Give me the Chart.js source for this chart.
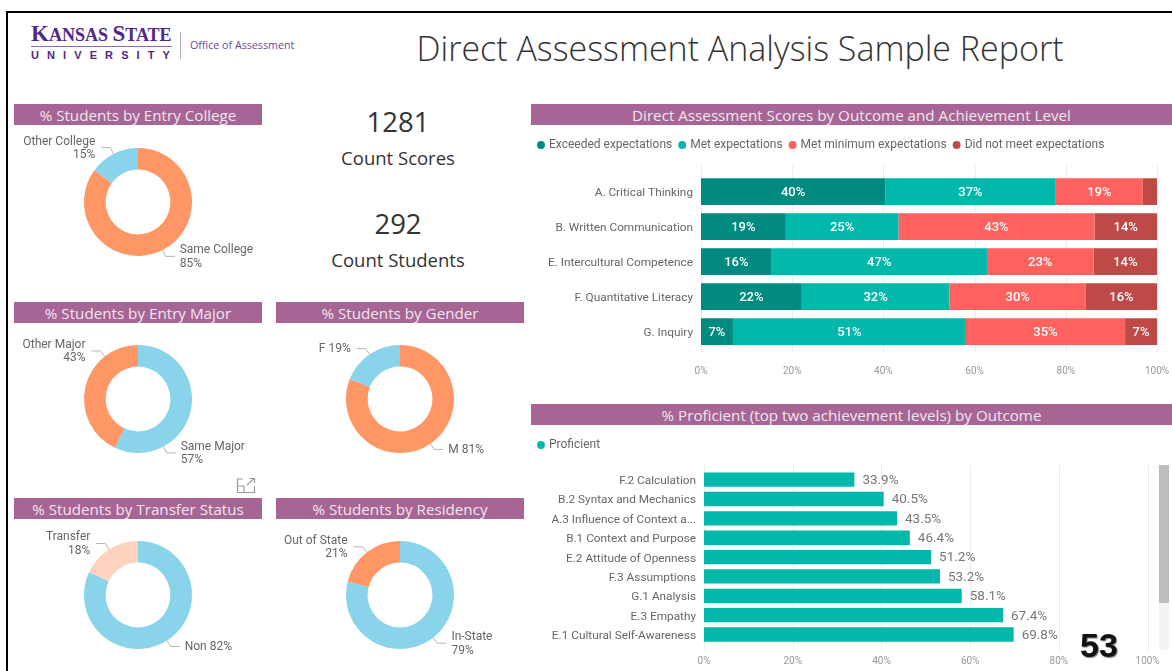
<!DOCTYPE html>
<html>
<head>
<meta charset="utf-8">
<title>Direct Assessment Analysis Sample Report</title>
<script src="https://cdn.jsdelivr.net/npm/chart.js@4"></script>
<style>
    html, body { margin: 0; padding: 0; background: #fff; }
    #page { position: relative; width: 1172px; height: 671px; overflow: hidden; font-family: "Open Sans", sans-serif; color: #333; }
    #page > * { position: absolute; }
    canvas { display: block; }
    .frame-top { left: 6px; top: 11px; width: 1166px; height: 2px; background: #000; }
    .frame-left { left: 6px; top: 11px; width: 2px; height: 660px; background: #000; }
    .bar-title { height: 21px; line-height: 23px; background: #a66594; color: #f1e6ee; text-align: center; font-size: 15.2px; white-space: nowrap; }
    .left-col { left: 14px; width: 248px; }
    .mid-col { left: 276px; width: 248px; }
    .right-col { left: 531px; width: 641px; }
    .kpi { left: 298px; width: 200px; text-align: center; white-space: nowrap; }
    .kpi-num { font-size: 27.5px; line-height: 32px; }
    .kpi-label { font-size: 18.5px; line-height: 24px; }
    #report-title { left: 380px; width: 720px; top: 24px; text-align: center; font-size: 34px; line-height: 48px; font-weight: 300; white-space: nowrap; }
    #logo-ks { left: 31px; top: 22px; font-family: "Liberation Serif", serif; font-weight: 700; font-size: 18px; line-height: 24px; color: #512888; white-space: nowrap; }
    #logo-ks b { font-size: 23px; }
    #logo-rule { left: 31px; top: 46px; width: 141px; height: 1px; background: #8a6fb0; }
    #logo-uni { left: 31px; top: 49px; font-family: "Liberation Sans", sans-serif; font-weight: 700; font-size: 11px; line-height: 12px; letter-spacing: 8.1px; color: #512888; white-space: nowrap; }
    #logo-div { left: 180px; top: 32px; width: 1px; height: 27px; background: #b9a6cf; }
    #logo-office { left: 190px; top: 37px; font-size: 10.7px; line-height: 16px; color: #6a4a9c; white-space: nowrap; }
    #page-num { left: 1080px; top: 626px; font-family: "Liberation Sans", sans-serif; font-weight: 700; font-size: 34px; line-height: 38px; color: #111; text-shadow: 1px 1px 1px #777; }
    #scroll-track { left: 1159px; top: 465px; width: 10px; height: 185px; background: #f3f3f3; }
    #scroll-thumb { left: 1159px; top: 465px; width: 10px; height: 138px; background: #bdbdbd; }
    #expand { left: 236px; top: 477px; }
</style>
</head>
<body>
<div id="page">
    <div class="frame-top"></div>
    <div class="frame-left"></div>

    <div id="logo-ks"><b>K</b>ANSAS <b>S</b>TATE</div>
    <div id="logo-rule"></div>
    <div id="logo-uni">UNIVERSITY</div>
    <div id="logo-div"></div>
    <div id="logo-office">Office of Assessment</div>
    <div id="report-title">Direct Assessment Analysis Sample Report</div>

    <div class="bar-title left-col" style="top:104px">% Students by Entry College</div>
    <div class="bar-title left-col" style="top:302px">% Students by Entry Major</div>
    <div class="bar-title mid-col" style="top:302px">% Students by Gender</div>
    <div class="bar-title left-col" style="top:498px">% Students by Transfer Status</div>
    <div class="bar-title mid-col" style="top:498px">% Students by Residency</div>
    <div class="bar-title right-col" style="top:104px">Direct Assessment Scores by Outcome and Achievement Level</div>
    <div class="bar-title right-col" style="top:404px">% Proficient (top two achievement levels) by Outcome</div>

    <div class="kpi kpi-num" style="top:106px">1281</div>
    <div class="kpi kpi-label" style="top:146px">Count Scores</div>
    <div class="kpi kpi-num" style="top:208px">292</div>
    <div class="kpi kpi-label" style="top:248px">Count Students</div>

    <div style="left:14px;top:127px;width:248px;height:150px"><canvas id="collegeChart"></canvas></div>
    <div style="left:14px;top:324px;width:248px;height:150px"><canvas id="majorChart"></canvas></div>
    <div style="left:276px;top:324px;width:248px;height:150px"><canvas id="genderChart"></canvas></div>
    <div style="left:14px;top:520px;width:248px;height:150px"><canvas id="transferChart"></canvas></div>
    <div style="left:276px;top:520px;width:248px;height:150px"><canvas id="residencyChart"></canvas></div>

    <div style="left:531px;top:131px;width:641px;height:250px"><canvas id="levelChart"></canvas></div>
    <div style="left:531px;top:431px;width:641px;height:240px"><canvas id="proficientChart"></canvas></div>

    <div id="scroll-track"></div>
    <div id="scroll-thumb"></div>
    <div id="page-num">53</div>

    <svg id="expand" width="20" height="17" viewBox="0 0 20 17" fill="none" stroke="#9a9a9a" stroke-width="1.2">
        <path d="M7 2H1.5V15.5H18.5V9"/>
        <path d="M1.5 9H8V15.5"/>
        <path d="M11 8L18 1.5M13.5 1.5H18.5V6"/>
    </svg>
</div>

<script>
// Donut data
const collegeValues = [85, 15];
const collegeText = [['Same College', '85%'], ['Other College', '15%']];
const majorValues = [57, 43];
const majorText = [['Same Major', '57%'], ['Other Major', '43%']];
const genderValues = [81, 19];
const genderText = [['M 81%'], ['F 19%']];
const transferValues = [82, 18];
const transferText = [['Non 82%'], ['Transfer', '18%']];
const residencyValues = [79, 21];
const residencyText = [['In-State', '79%'], ['Out of State', '21%']];

// Achievement level data
const outcomes = ['A. Critical Thinking', 'B. Written Communication', 'E. Intercultural Competence', 'F. Quantitative Literacy', 'G. Inquiry'];
const exceeded = [40.4, 18.6, 15.5, 22.1, 7.0];
const met = [37.4, 24.7, 47.2, 32.4, 51.1];
const metMinimum = [19.1, 43.0, 23.4, 29.9, 34.9];
const notMet = [3.1, 13.7, 13.9, 15.6, 7.0];

// Proficient data
const subOutcomes = ['F.2 Calculation', 'B.2 Syntax and Mechanics', 'A.3 Influence of Context a...', 'B.1 Context and Purpose', 'E.2 Attitude of Openness', 'F.3 Assumptions', 'G.1 Analysis', 'E.3 Empathy', 'E.1 Cultural Self-Awareness'];
const proficient = [33.9, 40.5, 43.5, 46.4, 51.2, 53.2, 58.1, 67.4, 69.8];

const percentTicks = [0, 20, 40, 60, 80, 100];

const BLUE = '#8ad4eb';
const ORANGE = '#fe9666';
const PALE = '#ffd2bf';
const LABEL_FONT = 'Roboto, sans-serif';

// Leader lines and the outside labels of a donut
const sliceLabelPlugin = {
    id: 'sliceLabels',
    afterDraw(chart, args, opts) {
        const ctx = chart.ctx;
        const arcs = chart.getDatasetMeta(0).data;
        ctx.save();
        ctx.font = '12px ' + LABEL_FONT;
        ctx.textBaseline = 'middle';
        arcs.forEach((arc, i) => {
            const mid = opts.angles ? opts.angles[i] * Math.PI / 180 : (arc.startAngle + arc.endAngle) / 2 + Math.PI / 2;
            const r = arc.outerRadius;
            const sx = Math.sin(mid), cy = -Math.cos(mid);
            const right = sx > 0;
            const ex = arc.x + (r + 7) * sx;
            const ey = arc.y + (r + 7) * cy;
            const tail = ex + (right ? 9 : -9);
            ctx.strokeStyle = '#b5b5b5';
            ctx.lineWidth = 1;
            ctx.beginPath();
            ctx.moveTo(arc.x + r * sx, arc.y + r * cy);
            ctx.lineTo(ex, ey);
            ctx.lineTo(tail, ey);
            ctx.stroke();
            const lines = opts.text[i];
            ctx.fillStyle = '#666';
            ctx.textAlign = right ? 'left' : 'right';
            const tx = tail + (right ? 5 : -6);
            if (lines.length === 1) {
                ctx.fillText(lines[0], tx, ey + 0.5);
            } else {
                ctx.fillText(lines[0], tx, ey - 6);
                ctx.fillText(lines[1], tx, ey + 7.5);
            }
        });
        ctx.restore();
    }
};

function createDonut(id, values, colors, text, angles) {
    return new Chart(document.getElementById(id), {
        type: 'doughnut',
        data: {
            labels: text.map(t => t.join(' ')),
            datasets: [{ data: values, backgroundColor: colors, borderWidth: 0 }]
        },
        options: {
            responsive: true,
            maintainAspectRatio: false,
            animation: false,
            events: [],
            cutout: '60%',
            layout: { padding: { top: 21, bottom: 21 } },
            plugins: {
                legend: { display: false },
                tooltip: { enabled: false },
                sliceLabels: { text: text, angles: angles }
            }
        },
        plugins: [sliceLabelPlugin]
    });
}

createDonut('collegeChart', collegeValues, [ORANGE, BLUE], collegeText);
createDonut('majorChart', majorValues, [BLUE, ORANGE], majorText, [152, -38]);
createDonut('genderChart', genderValues, [ORANGE, BLUE], genderText);
createDonut('transferChart', transferValues, [BLUE, PALE], transferText);
createDonut('residencyChart', residencyValues, [BLUE, ORANGE], residencyText);

// Adds room under the legend, the library has no option for it
const legendGapPlugin = {
    id: 'legendGap',
    beforeInit(chart, args, opts) {
        const fit = chart.legend.fit;
        chart.legend.fit = function() {
            fit.call(chart.legend);
            this.height += opts.gap;
        };
    }
};

// Vertical gridlines that run a little past the bars, top and bottom
const longGridPlugin = {
    id: 'longGrid',
    beforeDatasetsDraw(chart, args, opts) {
        const ctx = chart.ctx;
        const xScale = chart.scales.x;
        ctx.save();
        ctx.strokeStyle = '#ececec';
        ctx.lineWidth = 1;
        percentTicks.forEach(v => {
            const x = Math.round(xScale.getPixelForValue(v)) + 0.5;
            ctx.beginPath();
            ctx.moveTo(x, chart.chartArea.top - opts.above);
            ctx.lineTo(x, chart.chartArea.bottom + opts.below);
            ctx.stroke();
        });
        ctx.restore();
    }
};

// White percentages inside the stacked bars
const insideLabelPlugin = {
    id: 'insideLabels',
    afterDatasetsDraw(chart) {
        const ctx = chart.ctx;
        ctx.save();
        ctx.font = '500 13px ' + LABEL_FONT;
        ctx.fillStyle = '#fff';
        ctx.textAlign = 'center';
        ctx.textBaseline = 'middle';
        chart.data.datasets.forEach((ds, d) => {
            chart.getDatasetMeta(d).data.forEach((bar, i) => {
                if (ds.data[i] < 5) return;
                const c = bar.getCenterPoint();
                ctx.fillText(Math.round(ds.data[i]) + '%', c.x, c.y + 1);
            });
        });
        ctx.restore();
    }
};

// Grey values after the end of the proficient bars
const endLabelPlugin = {
    id: 'endLabels',
    afterDatasetsDraw(chart) {
        const ctx = chart.ctx;
        const ds = chart.data.datasets[0];
        ctx.save();
        ctx.font = '13.5px ' + LABEL_FONT;
        ctx.fillStyle = '#777';
        ctx.textAlign = 'left';
        ctx.textBaseline = 'middle';
        chart.getDatasetMeta(0).data.forEach((bar, i) => {
            ctx.fillText(ds.data[i].toFixed(1) + '%', bar.x + 8, bar.y + 1);
        });
        ctx.restore();
    }
};

function legendOptions() {
    return {
        position: 'top',
        align: 'start',
        labels: {
            usePointStyle: true,
            pointStyle: 'circle',
            boxWidth: 4,
            boxHeight: 5.6,
            padding: 8,
            color: '#666',
            font: { family: LABEL_FONT, size: 12 }
        }
    };
}

// tickLength still moves the labels down when the grid is hidden
function percentAxis(stacked, height, drop) {
    return {
        stacked: stacked,
        min: 0,
        max: 100,
        grid: { display: false, tickLength: drop },
        border: { display: false },
        afterFit: scale => { scale.height = height; },
        ticks: {
            stepSize: 20,
            padding: 0,
            maxRotation: 0,
            color: '#999',
            font: { family: LABEL_FONT, size: 10 },
            callback: v => v + '%'
        }
    };
}

function outcomeAxis(stacked, width) {
    return {
        stacked: stacked,
        grid: { display: false, drawTicks: false },
        border: { display: false },
        afterFit: scale => { scale.width = width; },
        ticks: {
            padding: 8,
            labelOffset: 1.5,
            autoSkip: false,
            color: '#666',
            font: { family: LABEL_FONT, size: 11.8 }
        }
    };
}

new Chart(document.getElementById('levelChart'), {
    type: 'bar',
    data: {
        labels: outcomes,
        datasets: [
            { label: 'Exceeded expectations', data: exceeded, backgroundColor: '#018a80' },
            { label: 'Met expectations', data: met, backgroundColor: '#01b8aa' },
            { label: 'Met minimum expectations', data: metMinimum, backgroundColor: '#fd625e' },
            { label: 'Did not meet expectations', data: notMet, backgroundColor: '#bd4a47' }
        ]
    },
    options: {
        indexAxis: 'y',
        responsive: true,
        maintainAspectRatio: false,
        animation: false,
        events: [],
        categoryPercentage: 1,
        barPercentage: 0.763,
        layout: { autoPadding: false, padding: { right: 15 } },
        plugins: {
            legend: legendOptions(),
            tooltip: { enabled: false },
            legendGap: { gap: 13 },
            longGrid: { above: 9, below: 4 }
        },
        scales: {
            x: percentAxis(true, 31.8, 16),
            y: outcomeAxis(true, 170)
        }
    },
    plugins: [legendGapPlugin, longGridPlugin, insideLabelPlugin]
});

new Chart(document.getElementById('proficientChart'), {
    type: 'bar',
    data: {
        labels: subOutcomes,
        datasets: [
            { label: 'Proficient', data: proficient, backgroundColor: '#01b8aa' }
        ]
    },
    options: {
        indexAxis: 'y',
        responsive: true,
        maintainAspectRatio: false,
        animation: false,
        events: [],
        categoryPercentage: 1,
        barPercentage: 0.74,
        layout: { autoPadding: false, padding: { right: 24.4 } },
        plugins: {
            legend: legendOptions(),
            tooltip: { enabled: false },
            legendGap: { gap: 9 },
            longGrid: { above: 5, below: 6 }
        },
        scales: {
            x: percentAxis(false, 26.8, 11),
            y: outcomeAxis(false, 173)
        }
    },
    plugins: [legendGapPlugin, longGridPlugin, endLabelPlugin]
});
</script>
</body>
</html>
